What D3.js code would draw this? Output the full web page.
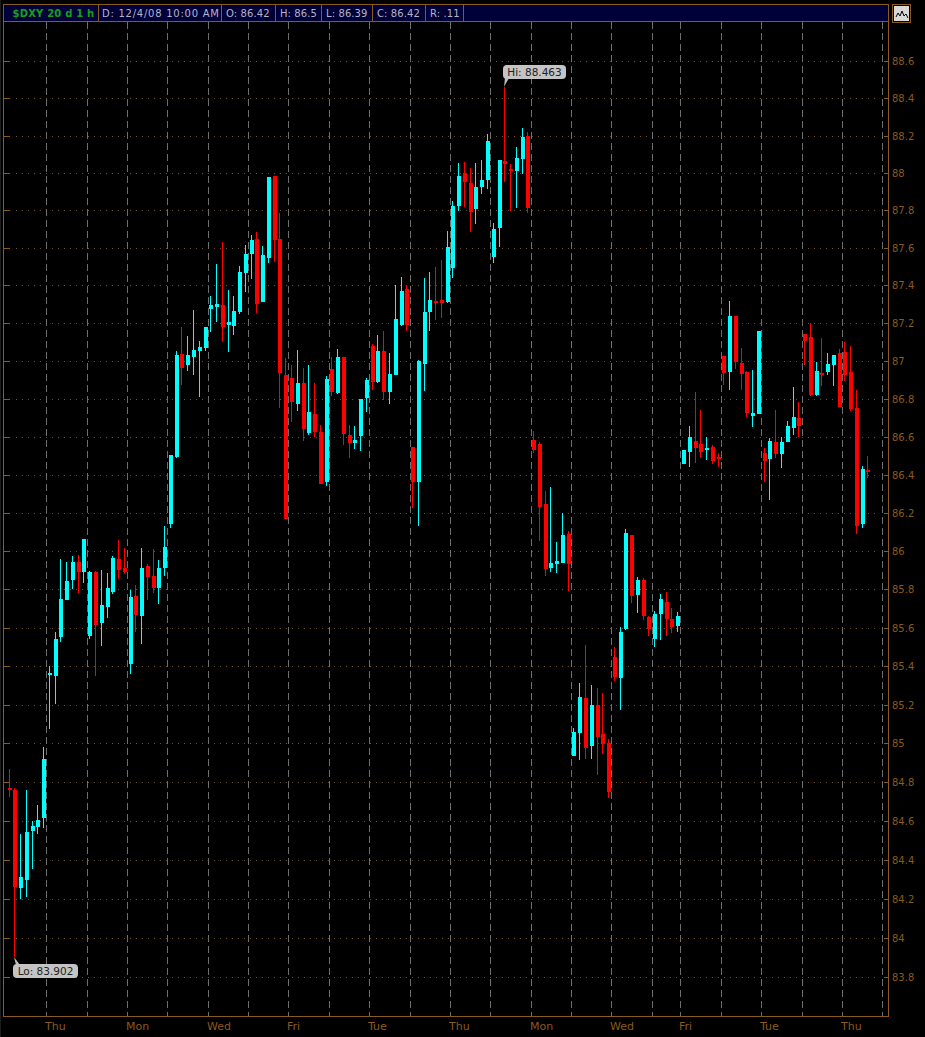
<!DOCTYPE html>
<html>
<head>
<meta charset="utf-8">
<script src="https://cdn.jsdelivr.net/npm/d3@7/dist/d3.min.js"></script>
<style>
  html, body { margin: 0; padding: 0; background: #000; }
  svg { display: block; }
</style>
</head>
<body>
<script>
const width = 925
const height = 1037

// hourly bars (price axis is logarithmic)
const opens = [84.768,84.758,84.256,84.296,84.548,84.569,84.614,85.354,85.349,85.551,85.743,85.848,85.943,85.890,85.557,85.890,85.624,85.707,85.785,85.958,85.911,85.411,85.764,85.661,85.922,85.869,85.806,85.911,86.141,86.493,87.036,86.978,87.020,87.051,87.067,87.276,87.286,87.297,87.191,87.185,87.259,87.465,87.567,87.646,87.312,87.546,87.983,87.646,86.926,86.910,86.773,86.884,86.619,86.719,86.624,86.361,86.957,86.830,87.020,86.608,86.566,86.603,86.804,87.079,86.889,87.051,86.836,86.926,87.191,87.381,86.545,86.361,86.983,87.259,87.317,87.323,87.312,87.493,87.823,88.000,87.946,87.808,87.925,87.962,87.551,87.706,88.063,88.021,88.011,88.074,88.199,86.582,86.561,86.246,85.911,85.932,85.937,86.088,84.935,85.053,85.235,84.985,85.198,85.048,85.001,85.448,85.339,85.592,86.083,85.770,85.848,85.655,85.541,85.670,85.733,85.645,85.608,86.456,86.519,86.577,86.561,86.530,86.545,86.493,87.025,86.941,87.238,86.989,86.941,86.709,86.719,86.514,86.482,86.571,86.509,86.571,86.645,86.698,87.142,87.126,86.820,86.936,86.941,86.978,87.041,87.046,86.941,86.752,86.141,86.425]
const highs = [84.868,84.768,84.532,84.758,84.598,84.681,84.980,85.401,85.577,85.958,85.943,85.973,85.978,86.062,85.895,85.895,85.901,85.885,85.973,86.057,86.015,85.796,85.822,86.015,85.932,86.010,85.953,86.130,86.503,87.051,87.180,87.131,87.269,87.105,87.180,87.344,87.514,87.631,87.376,87.344,87.504,87.615,87.667,87.685,87.610,87.977,87.983,87.787,87.015,86.978,87.057,86.962,86.978,86.884,86.661,86.920,87.020,87.062,87.020,86.661,86.655,86.799,86.910,87.089,87.136,87.157,87.041,87.402,87.444,87.402,86.545,87.004,87.439,87.470,87.499,87.535,87.690,87.850,88.053,88.058,88.027,88.053,88.068,88.210,87.732,88.068,88.463,88.047,88.140,88.241,88.220,86.629,86.571,86.314,86.335,86.046,86.198,86.104,85.079,85.312,85.510,85.302,85.286,85.261,85.022,85.499,85.603,86.115,86.083,85.864,85.859,85.661,85.686,85.775,85.785,85.701,85.680,86.530,86.655,86.836,86.740,86.598,86.556,86.514,87.025,87.317,87.238,87.067,86.947,86.952,87.157,86.540,86.592,86.740,86.598,86.683,86.863,86.783,87.142,87.201,86.994,87.121,87.041,87.030,87.062,87.100,87.079,86.846,86.446,86.498]
const lows = [84.723,83.902,84.198,84.209,84.354,84.532,84.563,85.073,85.203,85.525,85.743,85.801,85.780,85.833,85.541,85.349,85.504,85.650,85.775,85.853,85.880,85.360,85.577,85.515,85.743,85.780,85.723,85.869,86.120,86.488,86.873,86.947,86.926,86.809,87.051,87.152,87.206,87.100,87.046,87.136,87.248,87.365,87.434,87.254,87.312,87.520,87.525,86.752,86.167,86.677,86.735,86.577,86.608,86.598,86.351,86.341,86.815,86.825,86.556,86.488,86.535,86.524,86.730,86.846,86.884,86.794,86.773,86.926,87.185,87.157,86.225,86.130,86.841,87.157,87.217,87.227,87.307,87.439,87.797,87.818,87.685,87.727,87.888,87.914,87.520,87.604,87.951,87.797,87.813,87.995,87.787,86.514,86.052,85.869,85.890,85.885,85.937,85.791,84.935,84.914,84.919,84.919,84.836,84.945,84.718,85.323,85.172,85.587,85.728,85.675,85.640,85.557,85.499,85.536,85.557,85.571,85.577,86.456,86.440,86.461,86.488,86.477,86.456,86.440,86.873,86.846,86.957,86.846,86.703,86.650,86.719,86.361,86.267,86.488,86.435,86.571,86.608,86.598,86.978,86.815,86.815,86.868,86.926,86.868,86.757,86.894,86.735,86.088,86.120,86.383]
const closes = [84.758,84.261,84.312,84.542,84.572,84.603,84.919,85.365,85.541,85.749,85.843,85.943,85.890,86.062,85.890,85.613,85.717,85.806,85.964,85.901,85.890,85.759,85.666,85.911,85.864,85.806,85.911,86.020,86.503,87.030,86.962,87.030,87.057,87.073,87.180,87.297,87.302,87.180,87.206,87.264,87.470,87.567,87.641,87.302,87.562,87.977,87.641,86.936,86.167,86.783,86.884,86.640,86.730,86.624,86.351,86.905,86.836,87.020,86.613,86.566,86.582,86.799,86.899,86.889,87.051,86.836,86.931,87.222,87.370,87.191,86.361,86.999,87.259,87.323,87.307,87.307,87.604,87.823,87.983,87.951,87.792,87.925,87.962,88.173,87.701,88.068,88.047,88.011,88.079,88.194,87.813,86.530,86.230,85.906,85.937,85.948,86.083,85.932,85.058,85.240,84.975,85.198,85.033,84.996,84.749,85.344,85.577,86.094,85.764,85.848,85.661,85.592,85.670,85.749,85.645,85.603,85.661,86.530,86.598,86.540,86.519,86.540,86.472,86.482,86.936,87.238,86.994,86.931,86.724,86.724,87.157,86.472,86.577,86.509,86.571,86.655,86.703,86.655,87.105,86.820,86.947,86.926,86.983,87.030,86.757,86.926,86.746,86.130,86.430,86.414]

const priceTicks = [83.8,84,84.2,84.4,84.6,84.8,85,85.2,85.4,85.6,85.8,86,86.2,86.4,86.6,86.8,87,87.2,87.4,87.6,87.8,88,88.2,88.4,88.6]
const slotCount = 153
const gridSlots = [7,14,21,28,35,42,49,56,63,70,77,84,91,98,105,112,117,124,131,138,145,152]
const daySlots = [7,21,35,49,63,77,91,105,117,131,145]
const dayNames = ['Thu','Mon','Wed','Fri','Tue','Thu','Mon','Wed','Fri','Tue','Thu']

const headerCells = ['D: 12/4/08 10:00 AM','O: 86.42','H: 86.5','L: 86.39','C: 86.42','R: .11']
const hiPrice = 88.463
const loPrice = 83.902

const brown = '#8a5a1e'
const uiFont = '"DejaVu Sans", sans-serif'

const svg = d3.select('body').append('svg')
  .attr('width', width)
  .attr('height', height)
  .style('background', '#000')

const x = d3.scaleBand()
  .domain(d3.range(slotCount))
  .range([6, 888])

const y = d3.scaleLog()
  .domain([83.8, 88.6])
  .range([977, 61.3])

svg.append('rect')
  .attr('width', 1).attr('height', height)
  .attr('fill', '#1c1c1c')

// grid
let horizontal = svg.append('g').attr('shape-rendering', 'crispEdges')
priceTicks.forEach(p => {
  horizontal.append('line')
    .attr('x1', 16).attr('x2', 875)
    .attr('y1', Math.round(y(p)) + 0.5).attr('y2', Math.round(y(p)) + 0.5)
    .attr('stroke', '#6a4e2a')
    .attr('stroke-dasharray', '1 5')
  horizontal.append('line')
    .attr('x1', 3).attr('x2', 10)
    .attr('y1', Math.round(y(p)) + 0.5).attr('y2', Math.round(y(p)) + 0.5)
    .attr('stroke', brown)
})

svg.append('g')
  .attr('shape-rendering', 'crispEdges')
  .selectAll('line')
  .data(gridSlots)
  .join('line')
  .attr('x1', d => Math.round(x(d)) + 0.5)
  .attr('x2', d => Math.round(x(d)) + 0.5)
  .attr('y1', 22)
  .attr('y2', 1016)
  .attr('stroke', '#6e6e6e')
  .attr('stroke-dasharray', '7 4')

// candles
const barColor = i => closes[i] < opens[i] ? '#ff0000' : '#00ffff'
const barLeft = i => Math.round(x(i) + 1.5)

let candles = svg.append('g').attr('shape-rendering', 'crispEdges')

candles.selectAll('.wick')
  .data(opens)
  .join('rect')
  .attr('class', 'wick')
  .attr('x', (d, i) => barLeft(i) + 1)
  .attr('width', 1)
  .attr('y', (d, i) => Math.round(y(highs[i])))
  .attr('height', (d, i) => Math.round(y(lows[i])) - Math.round(y(highs[i])))
  .attr('fill', (d, i) => barColor(i))

candles.selectAll('.body')
  .data(opens)
  .join('rect')
  .attr('class', 'body')
  .attr('x', (d, i) => barLeft(i))
  .attr('width', 4)
  .attr('y', (d, i) => Math.round(y(Math.max(d, closes[i]))))
  .attr('height', (d, i) => Math.max(2, Math.round(y(Math.min(d, closes[i]))) - Math.round(y(Math.max(d, closes[i])))))
  .attr('fill', (d, i) => barColor(i))

// frame
svg.append('path')
  .attr('d', 'M3.5,21V1016.5H888.5V21')
  .attr('fill', 'none')
  .attr('stroke', brown)
  .attr('shape-rendering', 'crispEdges')

// price axis on the right, day axis at the bottom
let priceAxis = svg.append('g')
  .attr('transform', 'translate(888.5,0)')
  .call(d3.axisLeft(y).tickValues(priceTicks).tickSize(5).tickFormat(d => d))

priceAxis.select('.domain').remove()
priceAxis.selectAll('.tick').attr('transform', d => `translate(0,${Math.round(y(d)) + 0.5})`)
priceAxis.selectAll('.tick line').attr('stroke', brown).attr('shape-rendering', 'crispEdges')
priceAxis.selectAll('.tick text')
  .attr('x', 3.5)
  .attr('text-anchor', 'start')
  .style('font-family', uiFont)
  .style('font-size', 10)
  .style('fill', brown)

let dayAxis = svg.append('g')
  .attr('transform', 'translate(0,1016.5)')
  .call(d3.axisBottom(x).tickValues(daySlots).tickSize(0).tickFormat((d, i) => dayNames[i]))

dayAxis.select('.domain').remove()
dayAxis.selectAll('.tick').attr('transform', d => `translate(${Math.round(x(d)) - 1},0)`)
dayAxis.selectAll('.tick text')
  .attr('y', 13)
  .attr('dy', 0)
  .attr('text-anchor', 'start')
  .style('font-family', uiFont)
  .style('font-size', 11)
  .style('fill', brown)

// header strip
const headerEdges = [3, 98, 221, 275, 321, 372, 425, 463]
let header = svg.append('g')

header.append('rect')
  .attr('x', 3.5).attr('y', 4.5)
  .attr('width', 885).attr('height', 17)
  .attr('fill', '#000038')
  .attr('stroke', brown)
  .attr('shape-rendering', 'crispEdges')

header.selectAll('line')
  .data(headerEdges.slice(1))
  .join('line')
  .attr('x1', d => d + 0.5).attr('x2', d => d + 0.5)
  .attr('y1', 5).attr('y2', 21)
  .attr('stroke', brown)
  .attr('shape-rendering', 'crispEdges')

header.append('text')
  .text('$DXY 20 d 1 h')
  .attr('x', 12.5).attr('y', 17)
  .style('font-family', uiFont)
  .style('font-weight', 'bold')
  .style('font-size', 10)
  .style('letter-spacing', '0.2px')
  .style('fill', '#14a01e')

header.selectAll('.cell')
  .data(headerCells)
  .join('text')
  .attr('class', 'cell')
  .text(d => d)
  .attr('x', (d, i) => headerEdges[i + 1] + (i == 0 ? 4 : 5))
  .attr('y', 17)
  .style('font-family', uiFont)
  .style('font-size', 10)
  .style('letter-spacing', (d, i) => i == 0 ? '0.75px' : '0.1px')
  .style('fill', '#b4b4cc')

// study icon
let icon = svg.append('g').attr('shape-rendering', 'crispEdges')
icon.append('rect')
  .attr('x', 892.5).attr('y', 4.5).attr('width', 18).attr('height', 18)
  .attr('fill', '#000').attr('stroke', brown)
icon.append('rect')
  .attr('x', 894).attr('y', 6).attr('width', 15).attr('height', 15)
  .attr('fill', '#d8d8d8')
svg.append('polyline')
  .attr('points', '896,17 898,13 900,16 902,11 904,16 906,14 908,18')
  .attr('fill', 'none')
  .attr('stroke', '#000')

// high / low callouts
let callout = (price, barIndex, text, boxX, boxY, boxW, tipBelow) => {
  const tipX = barLeft(barIndex) + 1
  const tipY = y(price)
  const g = svg.append('g')
  g.append('path')
    .attr('d', tipBelow
      ? `M${tipX},${tipY}L${tipX + 6},${boxY + 1}L${boxX + 3},${boxY + 1}Z`
      : `M${tipX},${tipY}L${tipX + 5},${boxY + 13}L${tipX + 1},${boxY + 13}Z`)
    .attr('fill', '#bdbdbd')
  g.append('rect')
    .attr('x', boxX).attr('y', boxY)
    .attr('width', boxW).attr('height', 14)
    .attr('rx', 4)
    .attr('fill', '#c4c4c4')
  g.append('text')
    .text(text)
    .attr('x', boxX + boxW / 2).attr('y', boxY + 11)
    .attr('text-anchor', 'middle')
    .style('font-family', uiFont)
    .style('font-size', 10.5)
    .style('fill', '#222')
}

callout(hiPrice, 86, 'Hi: 88.463', 503, 65, 63, false)
callout(loPrice, 1, 'Lo: 83.902', 13, 964, 65, true)
</script>
</body>
</html>
